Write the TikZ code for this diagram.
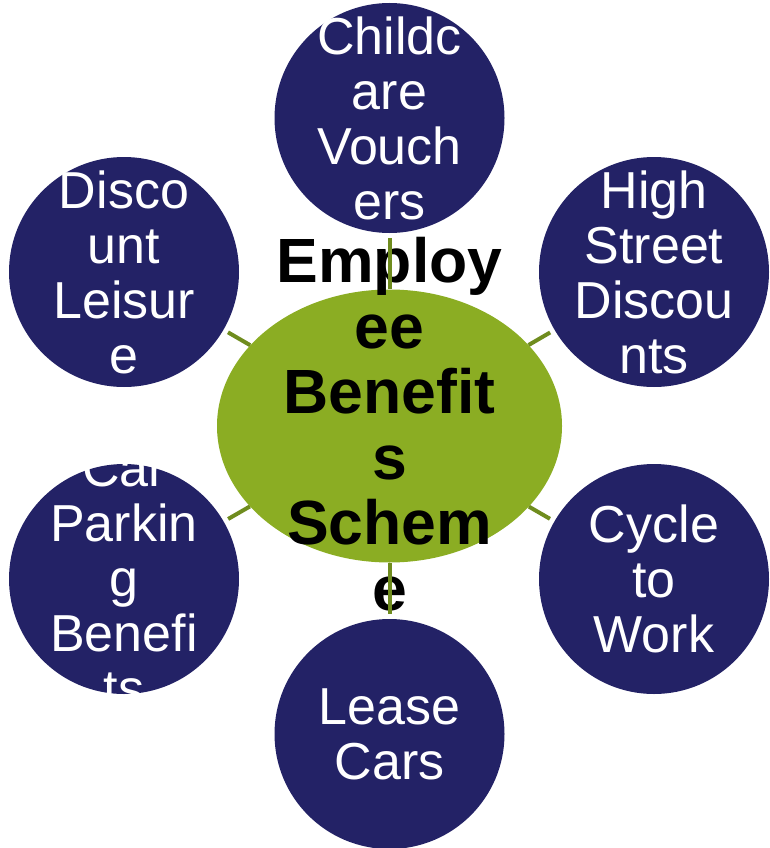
\documentclass[tikz,border=0pt]{standalone}
\usepackage{fontspec}
\setmainfont{Liberation Sans}
\usetikzlibrary{shapes.geometric}
\definecolor{navy}{HTML}{232266}
\definecolor{leaf}{HTML}{8BAD23}
\definecolor{stem}{HTML}{6F8C1E}
\tikzset{
  hub/.style={ellipse, fill=leaf, minimum width=345pt, minimum height=273pt, inner sep=0pt},
  sat/.style={circle, fill=navy, minimum size=230pt, inner sep=0pt},
  hubtext/.style={font=\bfseries\fontsize{62.5}{65.5}\selectfont, text=black, align=center, inner sep=0pt},
  sattext/.style={font=\fontsize{52}{55}\selectfont, text=white, align=center, inner sep=0pt},
  link/.style={draw=stem, line width=4pt, shorten <=5pt},
}
\begin{document}
\begin{tikzpicture}[x=1pt,y=-1pt]
\useasboundingbox (0,0) rectangle (769,848);

% central scheme
\node[hub] (hub) at (389.5,426) {};
\node[hubtext] (hubt) at (389.5,424) {Employ\\ee\\Benefit\\s\\Schem\\e};

% satellite positions
\coordinate (pt) at (389.5,118);
\coordinate (ptr) at (654,272);
\coordinate (pbr) at (654,579);
\coordinate (pb) at (389.5,734);
\coordinate (pbl) at (124,579);
\coordinate (ptl) at (124,272);

\node[sat] (top) at (pt) {};
\node[sat] (tr) at (ptr) {};
\node[sat] (br) at (pbr) {};
\node[sat] (bot) at (pb) {};
\node[sat] (bl) at (pbl) {};
\node[sat] (tl) at (ptl) {};

% spokes
\foreach \s in {top,tr,br,bot,bl,tl}
  \draw[link] (\s) -- (hub);

% satellite labels
\node[sattext] (topt) at (pt) {Childc\\are\\Vouch\\ers};
\node[sattext] (trt) at (ptr) {High\\Street\\Discou\\nts};
\node[sattext] (brt) at (pbr) {Cycle\\to\\Work};
\node[sattext] (bott) at (pb) {Lease\\Cars};
\node[sattext] (blt) at (pbl) {Car\\Parkin\\g\\Benefi\\ts};
\node[sattext] (tlt) at (ptl) {Disco\\unt\\Leisur\\e};
\end{tikzpicture}
\end{document}
